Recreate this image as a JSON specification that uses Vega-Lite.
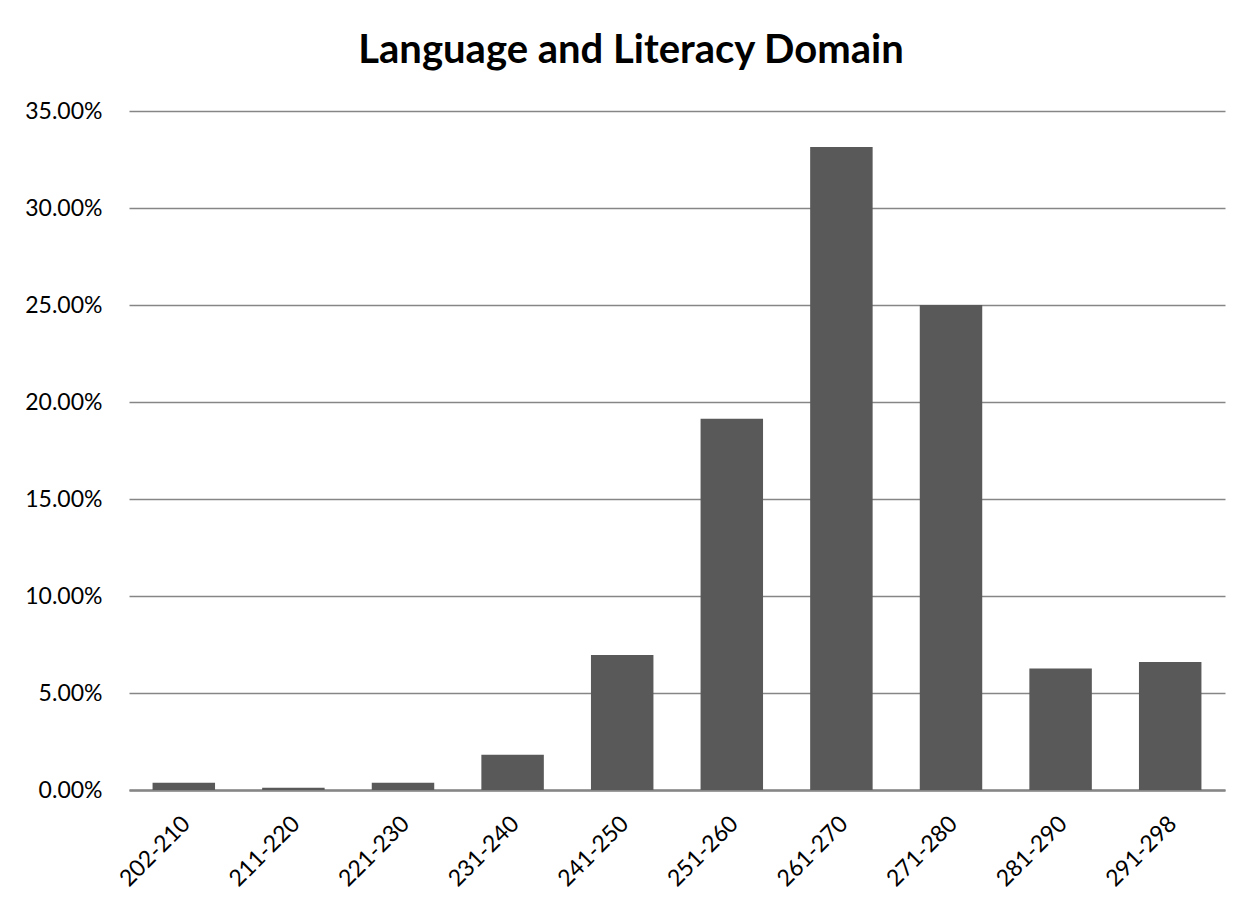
{
  "$schema": "https://vega.github.io/schema/vega-lite/v6.json",
  "width": 1096,
  "height": 679,
  "autosize": {"type": "none"},
  "padding": {"left": 129, "top": 111, "right": 28, "bottom": 116},
  "background": "white",
  "title": {"text": "Language and Literacy Domain", "font": "Lato", "fontSize": 40, "fontWeight": "bold", "color": "#000000", "anchor": "middle", "dx": -46, "offset": 29},
  "data": {"values": [
    {"range": "202-210", "pct": 0.0038},
    {"range": "211-220", "pct": 0.0012},
    {"range": "221-230", "pct": 0.0038},
    {"range": "231-240", "pct": 0.0182},
    {"range": "241-250", "pct": 0.0696},
    {"range": "251-260", "pct": 0.1914},
    {"range": "261-270", "pct": 0.3315},
    {"range": "271-280", "pct": 0.2500},
    {"range": "281-290", "pct": 0.0626},
    {"range": "291-298", "pct": 0.0660}
  ]},
  "mark": {"type": "bar", "color": "#595959"},
  "encoding": {
    "x": {"field": "range", "type": "nominal", "sort": null,
      "scale": {"paddingInner": 0.43, "paddingOuter": 0.215},
      "axis": {"title": null, "labelAngle": -45, "labelFontSize": 23, "labelFont": "Lato", "labelColor": "#000000", "ticks": false, "domainColor": "#868686", "domainWidth": 2.5, "labelPadding": 22, "labelOffset": -5}},
    "y": {"field": "pct", "type": "quantitative",
      "scale": {"domain": [0, 0.35], "nice": false},
      "axis": {"title": null, "format": ".2%", "values": [0, 0.05, 0.1, 0.15, 0.2, 0.25, 0.3, 0.35], "labelFontSize": 23, "labelFont": "Lato", "labelColor": "#000000", "domain": false, "ticks": false, "gridColor": "#868686", "gridWidth": 1.5, "gridOpacity": 1, "labelPadding": 27}}
  },
  "config": {"view": {"stroke": null}}
}
